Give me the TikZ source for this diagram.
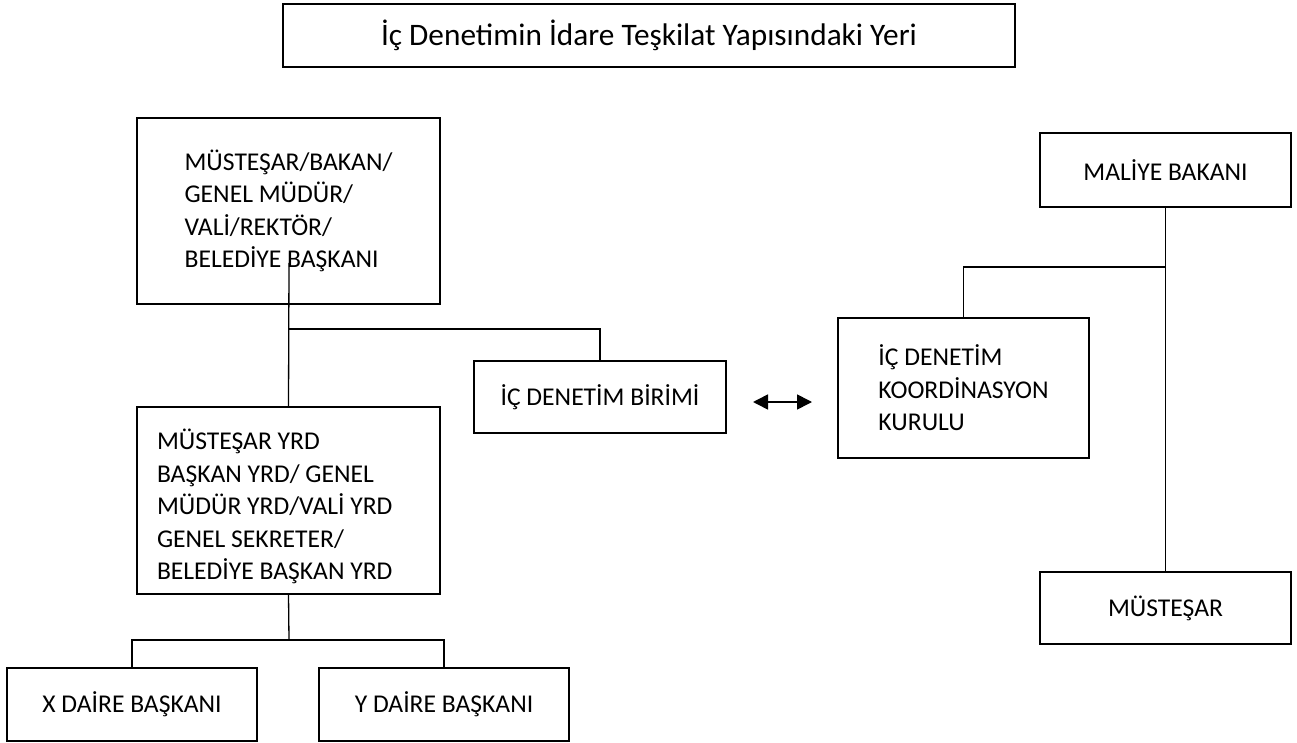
\documentclass[tikz,border=0pt]{standalone}
\usepackage{fontspec}
\setmainfont{Carlito}
\usetikzlibrary{arrows.meta}
\begin{document}
\begin{tikzpicture}[x=1pt,y=-1pt,
  every node/.style={font=\fontsize{25.6}{32.5}\selectfont},
  box/.style={draw=black,line width=1.3pt,inner sep=0pt,align=left},
  conn/.style={draw=black,line width=1.3pt},
  dbl/.style={conn,line width=1.6pt,{Triangle[length=15pt,width=15pt]}-{Triangle[length=15pt,width=15pt]}}]
\useasboundingbox (0,0) rectangle (1297,743);
% boxes
\node[box,minimum width=732pt,minimum height=63pt,font=\fontsize{31.3}{36}\selectfont] (title) at (649,35.5) {İç Denetimin İdare Teşkilat Yapısındaki Yeri};
\node[box,minimum width=303pt,minimum height=186pt] (tl) at (288.5,211) {MÜSTEŞAR/BAKAN/\\GENEL MÜDÜR/\\VALİ/REKTÖR/\\BELEDİYE BAŞKANI};
\node[box,minimum width=252pt,minimum height=72pt] (icd) at (600,397) {İÇ DENETİM BİRİMİ};
\node[box,minimum width=303pt,minimum height=187pt,text width=263pt,inner xsep=20pt,align=flush left] (mid) at (288.5,500.5) {\rule{0pt}{33pt}MÜSTEŞAR YRD\\BAŞKAN YRD/ GENEL\\MÜDÜR YRD/VALİ YRD\\GENEL SEKRETER/\\BELEDİYE BAŞKAN YRD};
\node[box,minimum width=250pt,minimum height=73pt] (xd) at (132,704.5) {X DAİRE BAŞKANI};
\node[box,minimum width=250pt,minimum height=73pt] (yd) at (444,704.5) {Y DAİRE BAŞKANI};
\node[box,minimum width=251pt,minimum height=140pt] (kur) at (963.5,388) {İÇ DENETİM\\KOORDİNASYON\\KURULU};
\node[box,minimum width=251pt,minimum height=74pt] (mal) at (1165.5,170) {MALİYE BAKANI};
\node[box,minimum width=251pt,minimum height=72pt] (mus) at (1165.5,608) {MÜSTEŞAR};
% junctions
\coordinate (t0) at (289,263);
\coordinate (j1) at (289,329);
\coordinate (j2) at (289,640);
\coordinate (j3) at (1166,267);
\coordinate (a1) at (753,402);
\coordinate (a2) at (812,402);
% connectors
\draw[conn] (t0) -- (mid.north);
\draw[conn] (j1) -| (icd.north);
\draw[conn] (mid.south) -- (j2);
\draw[conn] (xd.north) |- (j2) -| (yd.north);
\draw[conn] (mal.south) -- (mus.north);
\draw[conn] (j3) -| (kur.north);
\draw[dbl] (a1) -- (a2);
\end{tikzpicture}
\end{document}
